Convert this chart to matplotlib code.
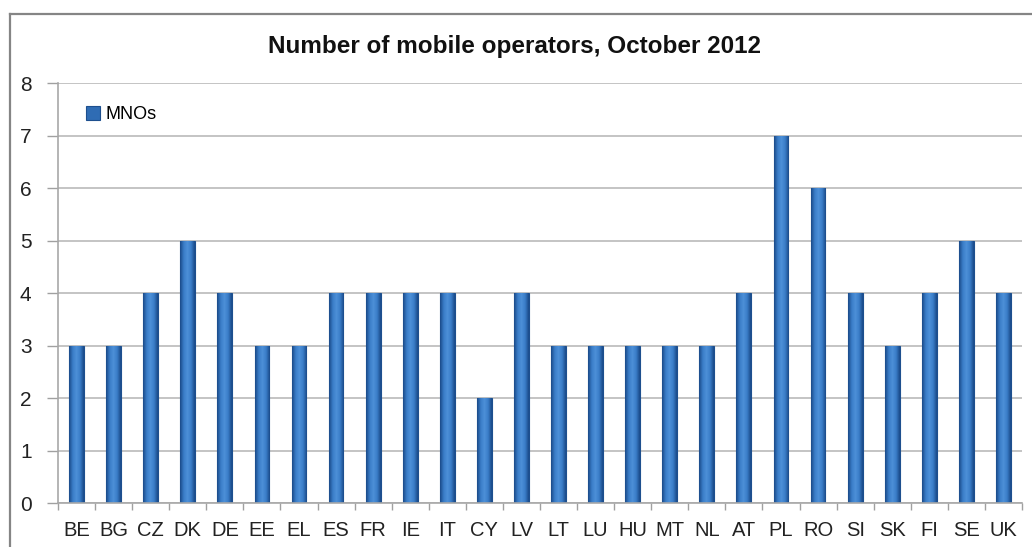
import numpy as np
import matplotlib
matplotlib.use("Agg")
import matplotlib.pyplot as plt
from matplotlib.lines import Line2D
from matplotlib.colors import LinearSegmentedColormap

countries = ["BE", "BG", "CZ", "DK", "DE", "EE", "EL", "ES", "FR", "IE", "IT", "CY", "LV",
             "LT", "LU", "HU", "MT", "NL", "AT", "PL", "RO", "SI", "SK", "FI", "SE", "UK"]
mnos = [3, 3, 4, 5, 4, 3, 3, 4, 4, 4, 4, 2, 4, 3, 3, 3, 3, 3, 4, 7, 6, 4, 3, 4, 5, 4]
y_ticks = [0, 1, 2, 3, 4, 5, 6, 7, 8]

plt.rcParams['font.family'] = ['Liberation Sans', 'DejaVu Sans']

fig = plt.figure(figsize=(10.32, 5.47), dpi=100)
ax = fig.add_axes([0.0562, 0.0804, 0.9341, 0.7676])

x = np.arange(len(countries))
bar_w = 0.4
bars = ax.bar(x, mnos, width=bar_w, color="#2f6cb4", edgecolor="#1d4f8e",
              linewidth=0.8, zorder=2, label="MNOs")

# horizontal shading across each bar: dark edges, lighter centre
shade = LinearSegmentedColormap.from_list(
    "barshade", ["#1a4a88", "#3a7dc8", "#4d90d8", "#3a7dc8", "#1a4a88"])
grad = np.linspace(0, 1, 64).reshape(1, -1)
for rect in bars:
    bx, by = rect.get_x(), rect.get_y()
    bw, bh = rect.get_width(), rect.get_height()
    im = ax.imshow(grad, cmap=shade, aspect="auto", extent=[bx, bx + bw, by, by + bh],
                   zorder=2.5, interpolation="bilinear")
    im.set_clip_path(rect)

ax.set_xlim(-0.5, len(countries) - 0.5)
ax.set_ylim(0, 8)
ax.set_yticks(y_ticks)
ax.set_yticklabels([str(v) for v in y_ticks], fontsize=15, color="#222222")
ax.set_xticks(x)
ax.set_xticklabels(countries, fontsize=14.5, color="#222222")
ax.tick_params(axis="x", length=0, pad=13)
ax.set_xticks(np.arange(-0.5, len(countries), 1), minor=True)
ax.tick_params(axis="x", which="minor", length=5, color="#a0a0a0", width=1)
ax.tick_params(axis="y", length=8, color="#a0a0a0", width=1, pad=11)

ax.grid(axis="y", color="#c4c4c4", linewidth=1.4, zorder=0)
ax.set_axisbelow(True)
for side in ("top", "right"):
    ax.spines[side].set_visible(False)
ax.spines["left"].set_color("#a8a8a8")
ax.spines["bottom"].set_color("#a8a8a8")
ax.spines["left"].set_linewidth(1.2)
ax.spines["bottom"].set_linewidth(1.2)

ax.set_xlim(-0.5, len(countries) - 0.5)

leg = ax.legend(loc="upper left", bbox_to_anchor=(0.012, 0.985), frameon=False,
                fontsize=13, handlelength=0.8, handleheight=0.8, handletextpad=0.3)

fig.text(0.499, 0.915, "Number of mobile operators, October 2012", ha="center",
         va="center", fontsize=17.5, fontweight="bold", color="#111111")

# outer chart frame (top and left edges)
fig.add_artist(Line2D([10 / 1032, 1.0], [1 - 14 / 547, 1 - 14 / 547],
                      transform=fig.transFigure, color="#858585", linewidth=1.6))
fig.add_artist(Line2D([10 / 1032, 10 / 1032], [0, 1 - 14 / 547],
                      transform=fig.transFigure, color="#858585", linewidth=1.6))

fig.savefig("out.png", dpi=100)
